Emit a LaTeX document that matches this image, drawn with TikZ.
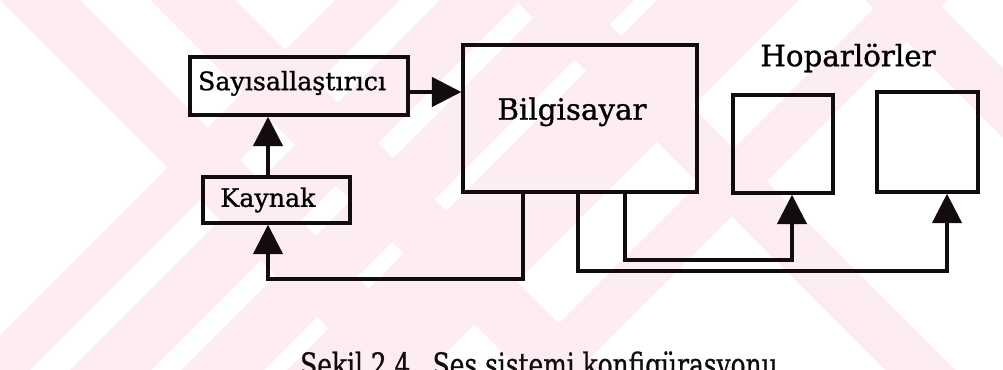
\documentclass[tikz,border=0pt]{standalone}
\usepackage{fontspec}
\setmainfont[FakeBold=1.0]{DejaVu Serif}
\usetikzlibrary{arrows.meta}

\definecolor{inkc}{RGB}{18,12,12}
\definecolor{wmark}{RGB}{253,237,240}

\tikzset{
  blockbox/.style={draw=inkc, line width=2.6pt, fill=none, inner sep=0pt, text=inkc},
  wire/.style={draw=inkc, line width=2.4pt},
  feed/.style={wire, -{Triangle[length=22pt,width=22pt]}},
  bandfill/.style={fill=wmark, draw=none}
}

% backslash-direction band: x - y between #1 and #2
\newcommand{\bandDown}[2]{\fill[bandfill] (#1,0) -- (#2,0) -- (#2+370,370) -- (#1+370,370) -- cycle;}
% slash-direction band: x + y between #1 and #2
\newcommand{\bandUp}[2]{\fill[bandfill] (#1,0) -- (#2,0) -- (#2-370,370) -- (#1-370,370) -- cycle;}

\begin{document}
\begin{tikzpicture}[x=0.75pt, y=-0.75pt, font=\color{inkc}]
  \useasboundingbox (0,0) rectangle (1003,370);
  \begin{scope}
    \clip (0,0) rectangle (1003,370);
    \fill[white] (0,0) rectangle (1003,370);
    % faint diagonal background bands
    \bandDown{0}{80}
    \bandDown{150}{235}
    \bandDown{515}{585}
    \bandDown{865}{935}
    \bandUp{335}{400}
    \bandUp{440}{521}
    \bandUp{551}{634}
    \bandUp{657}{798}
    \bandUp{882}{948}
  \end{scope}

  % blocks (sizes in pt: one pixel of the layout grid is 0.75pt)
  \node[blockbox, minimum width=163.5pt, minimum height=43.5pt,
        label={[xshift=-5.2pt, yshift=2pt, font=\fontsize{19}{22}\selectfont]center:Sayısallaştırıcı}]
        (say) at (299,86) {};
  \node[blockbox, minimum width=110.25pt, minimum height=34.5pt,
        label={[xshift=-6.4pt, font=\fontsize{19}{22}\selectfont]center:Kaynak}]
        (kay) at (276.5,200) {};
  \node[blockbox, minimum width=175.5pt, minimum height=110.25pt,
        label={[xshift=-6pt, yshift=5pt, font=\fontsize{22}{26}\selectfont]center:Bilgisayar}]
        (bilg) at (580,118.5) {};
  \node[blockbox, minimum width=75pt, minimum height=73.5pt] (spk1) at (783,144) {};
  \node[blockbox, minimum width=75.75pt, minimum height=75pt] (spk2) at (927.5,142) {};
  \node[font=\fontsize{22}{26}\selectfont] (hop) at (848,58) {Hoparlörler};

  % caption, cut by the lower edge
  \begin{scope}
    \clip (0,0) rectangle (1003,370);
    \node[anchor=base west, inner sep=0pt] (cap) at (300,376)
      {\resizebox{358pt}{18.5pt}{Şekil 2.4\hspace{0.9em}Ses sistemi konfigürasyonu}};
  \end{scope}

  % routing columns and rows
  \coordinate (cA) at (268,0);
  \coordinate (cB) at (523,0);
  \coordinate (cC) at (578,0);
  \coordinate (cD) at (625,0);
  \coordinate (cE) at (792,0);
  \coordinate (cF) at (947,0);
  \coordinate (rIn) at (0,92);
  \coordinate (rLow) at (0,279);
  \coordinate (rMid) at (0,271);
  \coordinate (rHigh) at (0,260);

  % connectors
  \draw[feed] (kay.north -| cA) -- (say.south -| cA);
  \draw[feed] (say.east |- rIn) -- (bilg.west |- rIn);
  \draw[feed] (bilg.south -| cB) -- (cB |- rLow) -- (cA |- rLow) -- (kay.south -| cA);
  \draw[feed] (bilg.south -| cD) -- (cD |- rHigh) -- (cE |- rHigh) -- (spk1.south -| cE);
  \draw[feed] (bilg.south -| cC) -- (cC |- rMid) -- (cF |- rMid) -- (spk2.south -| cF);
\end{tikzpicture}
\end{document}
